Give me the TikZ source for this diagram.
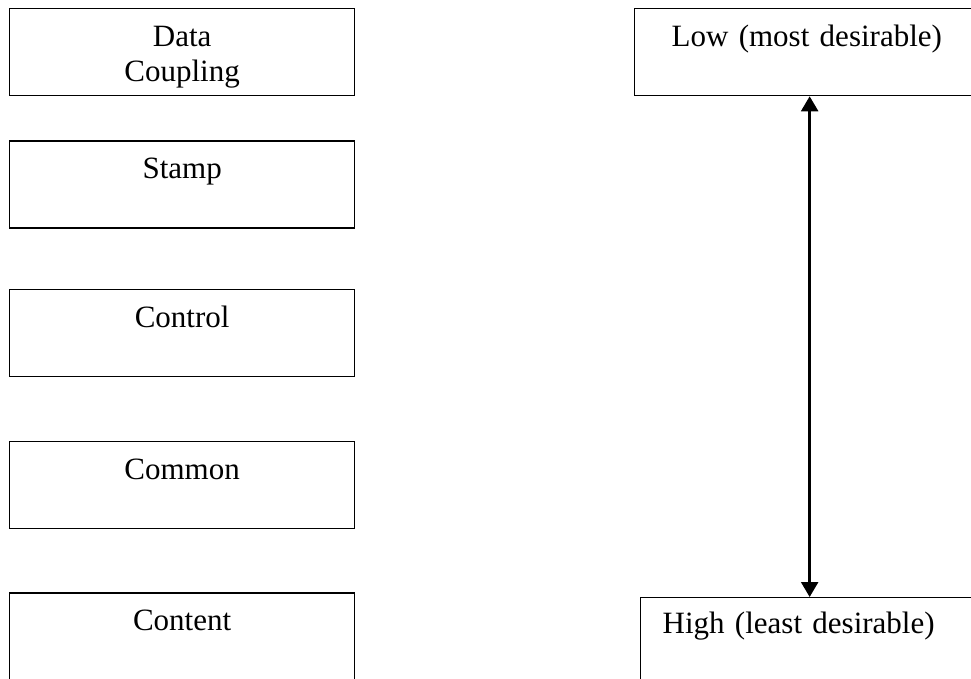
\documentclass[tikz,border=0pt]{standalone}
\usepackage{fontspec}
\setmainfont{Liberation Serif}
\usetikzlibrary{positioning, arrows.meta}

\begin{document}
\begin{tikzpicture}[x=1pt, y=-1pt, >={Triangle[width=17pt,length=15pt]},
    level/.style={draw, line width=1.3pt, rectangle, inner ysep=0pt, anchor=north west, minimum width=345pt, text height=38pt, text depth=49pt, align=center, font=\fontsize{31}{35}\selectfont},
    endbox/.style={level, align=left, minimum width=0pt}]
\useasboundingbox (0,0) rectangle (971,679);
\clip (0,0) rectangle (971,679);

% coupling types, best at the top
\node[level, text height=73pt, text depth=14pt] (data) at (9,8) {Data\\Coupling};
\node[level, below=44pt of data] (stamp) {Stamp};
\node[level, below=60pt of stamp] (control) {Control};
\node[level, below=64pt of control] (common) {Common};
\node[level, below=63pt of common, text depth=62pt] (content) {Content};

% scale on the right
\node[endbox, text width=276pt, inner xsep=37pt] (low) at (634,8) {Low (most desirable)};
\node[endbox, text width=294pt, inner xsep=22pt, text height=36pt, text depth=62pt] (high) at (640,597) {High (least desirable)};

\draw[<->, line width=2.4pt] (low.south) -- (high.north);

\end{tikzpicture}
\end{document}
